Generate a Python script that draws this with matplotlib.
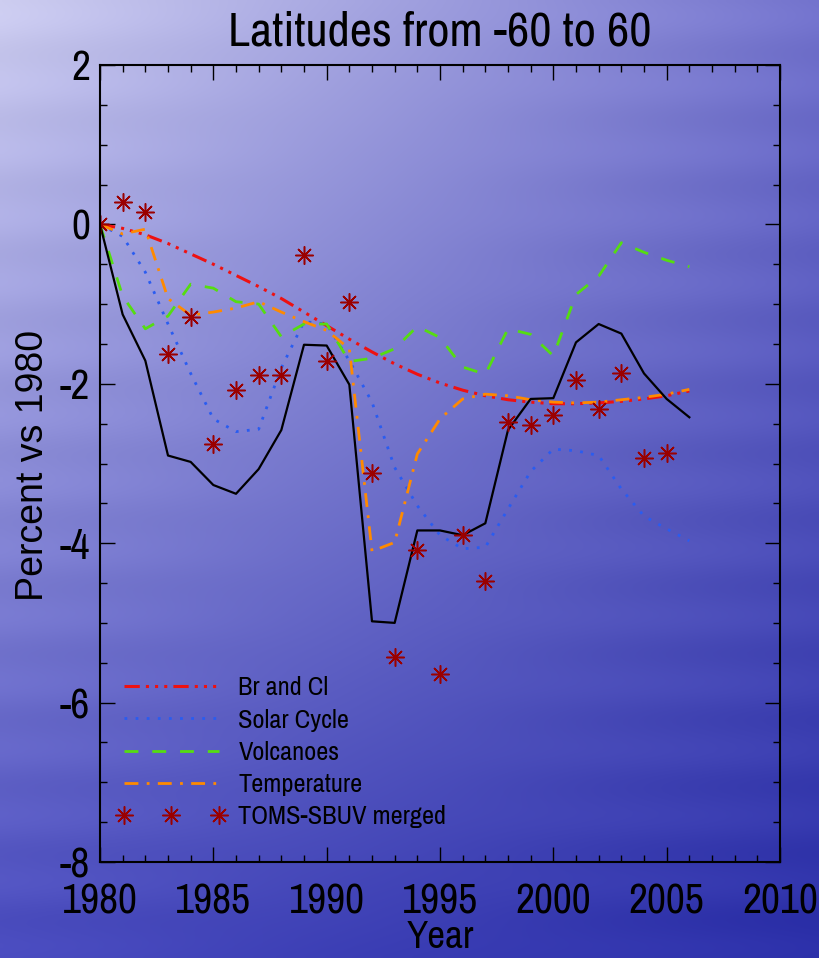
import numpy as np
import matplotlib
matplotlib.use("Agg")
import matplotlib.pyplot as plt
from matplotlib.ticker import MultipleLocator

plt.rcParams['axes.unicode_minus'] = False

years = list(range(1980, 2007))
toms_years = list(range(1980, 2006))

br_cl = [0.0, -0.05, -0.13, -0.24, -0.37, -0.50, -0.64, -0.78, -0.93, -1.10,
         -1.27, -1.44, -1.60, -1.75, -1.88, -1.99, -2.08, -2.15, -2.20, -2.23,
         -2.25, -2.25, -2.24, -2.22, -2.19, -2.15, -2.09]
solar = [0.0, -0.15, -0.60, -1.25, -1.87, -2.44, -2.60, -2.57, -1.80, -1.22,
         -1.25, -1.71, -2.23, -3.05, -3.53, -3.90, -4.07, -4.05, -3.57, -3.10,
         -2.82, -2.84, -2.90, -3.32, -3.66, -3.82, -3.97]
volcanoes = [0.0, -0.90, -1.31, -1.15, -0.75, -0.80, -0.97, -1.00, -1.41, -1.25,
             -1.25, -1.72, -1.68, -1.56, -1.28, -1.42, -1.79, -1.88, -1.31, -1.38,
             -1.65, -0.88, -0.65, -0.23, -0.35, -0.45, -0.53]
temperature = [0.0, -0.12, -0.06, -0.93, -1.14, -1.10, -1.05, -0.97, -1.10, -1.22,
               -1.33, -1.56, -4.10, -3.99, -2.88, -2.44, -2.19, -2.13, -2.15, -2.20,
               -2.23, -2.24, -2.23, -2.20, -2.17, -2.13, -2.07]
total = [0.0, -1.13, -1.71, -2.90, -2.98, -3.27, -3.38, -3.07, -2.58, -1.51,
         -1.52, -2.01, -4.98, -5.00, -3.84, -3.84, -3.90, -3.75, -2.58, -2.19,
         -2.18, -1.48, -1.25, -1.37, -1.87, -2.19, -2.42]
toms = [0.0, 0.28, 0.15, -1.62, -1.16, -2.75, -2.08, -1.89, -1.89, -0.38,
        -1.71, -0.97, -3.12, -5.43, -4.09, -5.64, -3.90, -4.47, -2.48, -2.52,
        -2.39, -1.95, -2.31, -1.87, -2.93, -2.87]

narrow = ['Archivo Narrow', 'Liberation Sans', 'DejaVu Sans']
regular = ['Liberation Sans', 'DejaVu Sans']

W, H = 819, 958
fig = plt.figure(figsize=(W / 100, H / 100), dpi=100)

# background gradient
u = np.linspace(0, 1, 200)[None, :]
v = np.linspace(0, 1, 240)[:, None]
TL = np.array([205, 205, 240]) / 255
TR = np.array([115, 115, 205]) / 255
BL = np.array([72, 74, 190]) / 255
BR = np.array([42, 46, 168]) / 255
img = ((1 - u)[..., None] * (1 - v)[..., None] * TL + u[..., None] * (1 - v)[..., None] * TR
       + (1 - u)[..., None] * v[..., None] * BL + u[..., None] * v[..., None] * BR)
band = 0.012 * np.sin(v * 90.0) * (0.5 + 0.5 * np.cos(u * 7.0))
img = np.clip(img + band[..., None], 0, 1)
bg = fig.add_axes([0, 0, 1, 1], zorder=-10)
bg.imshow(img, aspect='auto', extent=[0, 1, 0, 1], interpolation='bilinear')
bg.axis('off')

ax = fig.add_axes([100 / W, (H - 862) / H, 680 / W, (862 - 65) / H])
ax.set_facecolor('none')

ax.plot(years, br_cl, color='#ee1111', lw=2.2, dashes=(5, 2, 1, 2, 1, 2, 1, 2), label='Br and Cl')
ax.plot(years, solar, color='#2a5cf0', lw=2.0, dashes=(1, 3), label='Solar Cycle')
ax.plot(years, volcanoes, color='#55dd11', lw=2.0, dashes=(5, 5), label='Volcanoes')
ax.plot(years, temperature, color='#ff8a00', lw=2.0, dashes=(5, 3, 1, 3), label='Temperature')
ax.plot(years, total, color='black', lw=1.6)
ax.plot(toms_years, toms, linestyle='none', marker=(8, 2, 0), markersize=13,
        markeredgewidth=1.1, color='#9a0000', label='TOMS-SBUV merged')

ax.set_xlim(1980, 2010)
ax.set_ylim(-8, 2)
ax.xaxis.set_major_locator(MultipleLocator(5))
ax.xaxis.set_minor_locator(MultipleLocator(1))
ax.yaxis.set_major_locator(MultipleLocator(2))
ax.yaxis.set_minor_locator(MultipleLocator(0.5))
ax.tick_params(which='both', direction='in', top=True, right=True, color='black')
ax.tick_params(which='major', length=11, width=1.0)
ax.tick_params(which='minor', length=5, width=1.0)
ax.tick_params(axis='x', which='major', pad=15)
ax.tick_params(axis='y', which='major', pad=7)
for lab in ax.get_xticklabels() + ax.get_yticklabels():
    lab.set_fontfamily(narrow)
    lab.set_fontsize(30)
for sp in ax.spines.values():
    sp.set_linewidth(1.5)

fig.text(440 / W, 1 - 32 / H, 'Latitudes from -60 to 60', ha='center', va='center',
         fontsize=35, family=narrow)
fig.text(440 / W, 1 - 938 / H, 'Year', ha='center', va='center', fontsize=28, family=narrow)
fig.text(33 / W, 1 - 465 / H, 'Percent vs 1980', ha='center', va='center', rotation=90,
         fontsize=27, family=regular)

leg = ax.legend(loc='lower left', bbox_to_anchor=(-0.012, 0.0125), frameon=False,
                handlelength=4.2, handletextpad=0.45, numpoints=3, labelspacing=0.35,
                prop={'family': narrow, 'size': 19})

fig.savefig('out.png', dpi=100)
